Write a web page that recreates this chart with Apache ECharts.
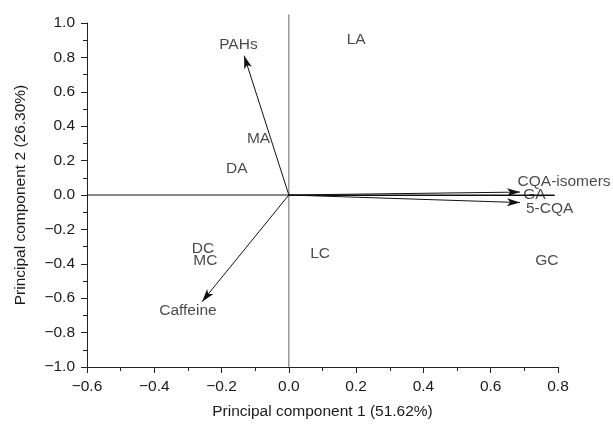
<!DOCTYPE html>
<html>
<head>
<meta charset="utf-8">
<script src="https://cdn.jsdelivr.net/npm/echarts@6/dist/echarts.min.js"></script>
<style>
  html, body { margin: 0; padding: 0; background: #fff; }
  #chart { width: 613px; height: 425px; }
</style>
</head>
<body>
<div id="chart"></div>
<script>
// sample scores (text only, no markers)
const sampleNames = ['LA', 'MA', 'DA', 'DC', 'MC', 'LC', 'GC'];
const sampleX = [0.20, -0.09, -0.155, -0.255, -0.248, 0.093, 0.767];
const sampleY = [0.90, 0.33, 0.155, -0.31, -0.38, -0.34, -0.38];

// loadings (vectors from origin)
const loadingNames = ['PAHs', 'Caffeine', 'CQA-isomers', 'GA', '5-CQA'];
const loadingX = [-0.133, -0.258, 0.687, 0.79, 0.687];
const loadingY = [0.81, -0.62, 0.017, 0.0, -0.044];
const loadingArrow = [true, true, true, false, true];
const loadingLabelX = [-0.15, -0.30, 0.818, 0.73, 0.775];
const loadingLabelY = [0.875, -0.67, 0.075, 0.0, -0.08];

const xTicks = [-0.6, 0.8, 0.2];
const yTicks = [-1.0, 1.0, 0.2];

const fontFamily = 'Liberation Sans, Arial, sans-serif';
const textColor = '#1a1a1a';
const fontSize = 15.5;
const fmt = v => v.toFixed(1).replace('-', '\u2212');

const chartDom = document.getElementById('chart');
const myChart = echarts.init(chartDom);

const vectorLines = loadingNames.map((n, i) => [
  { coord: [0, 0] },
  { coord: [loadingX[i], loadingY[i]], symbol: loadingArrow[i] ? 'arrow' : 'none' }
]);

const axisCommon = {
  type: 'value',
  nameLocation: 'middle',
  nameTextStyle: { fontSize: fontSize, color: textColor, fontFamily: fontFamily },
  axisLine: { onZero: false, lineStyle: { color: '#222', width: 1 } },
  axisTick: { inside: false, length: 6, lineStyle: { color: '#222' } },
  minorTick: { show: true, splitNumber: 2, length: 4, lineStyle: { color: '#222' } },
  axisLabel: { fontSize: fontSize, color: textColor, margin: 12, formatter: fmt },
  splitLine: { show: false }
};

const labelStyle = {
  show: true,
  position: 'inside',
  formatter: p => p.name,
  fontSize: fontSize,
  color: textColor,
  fontFamily: fontFamily
};

const option = {
  animation: false,
  textStyle: { fontFamily: fontFamily },
  grid: { left: 87, right: 55, top: 23, bottom: 57 },
  xAxis: Object.assign({}, axisCommon, {
    min: xTicks[0],
    max: xTicks[1],
    interval: xTicks[2],
    name: 'Principal component 1 (51.62%)',
    nameGap: 37
  }),
  yAxis: Object.assign({}, axisCommon, {
    min: yTicks[0],
    max: yTicks[1],
    interval: yTicks[2],
    name: 'Principal component 2 (26.30%)',
    nameGap: 58
  }),
  series: [
    {
      // zero reference lines
      type: 'line',
      data: [[-0.6, 0], [0.79, 0]],
      symbol: 'none',
      silent: true,
      lineStyle: { color: '#111', width: 1 }
    },
    {
      type: 'line',
      data: [[0, -1.0], [0, 1.05]],
      symbol: 'none',
      silent: true,
      clip: false,
      lineStyle: { color: '#666', width: 1 }
    },
    {
      // loading vectors
      type: 'scatter',
      data: [],
      markLine: {
        silent: true,
        symbol: ['none', 'arrow'],
        symbolSize: [6, 13],
        label: { show: false },
        lineStyle: { color: '#111', width: 1, type: 'solid' },
        data: vectorLines
      }
    },
    {
      type: 'scatter',
      symbolSize: 0,
      clip: false,
      data: loadingNames.map((n, i) => ({ name: n, value: [loadingLabelX[i], loadingLabelY[i]] })),
      label: labelStyle
    },
    {
      type: 'scatter',
      symbolSize: 0,
      clip: false,
      data: sampleNames.map((n, i) => ({ name: n, value: [sampleX[i], sampleY[i]] })),
      label: labelStyle
    }
  ]
};

option && myChart.setOption(option);
</script>
</body>
</html>
